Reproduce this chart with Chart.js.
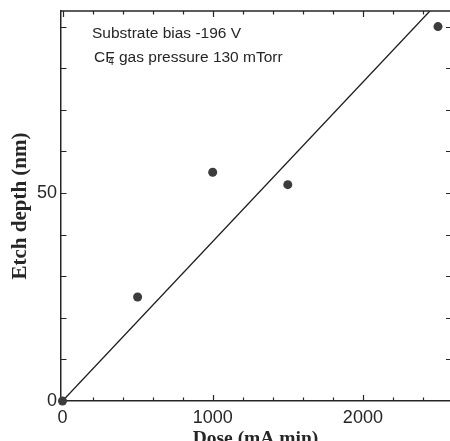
<!DOCTYPE html>
<html>
<head>
<meta charset="utf-8">
<script src="https://cdn.jsdelivr.net/npm/chart.js@4.4.1/dist/chart.umd.min.js"></script>
<style>
  html, body { margin: 0; padding: 0; background: #fff; }
  #wrap { width: 450px; height: 441px; }
</style>
</head>
<body>
<div id="wrap"><canvas id="etchChart" width="450" height="441"></canvas></div>
<script>
// measured etch depth vs. ion dose
const doses = [0, 500, 1000, 1500, 2500];
const depths = [0, 25, 55, 52, 90];

// least-squares line through the origin, drawn between these two ends
const fitDose = [0, 2446];
const fitDepth = [0, 93.75];

// axis ticks
const xLabelTicks = [0, 1000, 2000];
const xMinorTicks = [200, 400, 600, 800, 1200, 1400, 1600, 1800, 2200, 2400];
const yLabelTicks = [0, 50];
const yMinorTicks = [10, 20, 30, 40, 60, 70, 80, 90];

const notes = ['Substrate bias -196 V', 'gas pressure 130 mTorr'];

const ink = '#262626';
const sans = "'Liberation Sans', Arial, Helvetica, sans-serif";
const serif = "'Liberation Serif', 'Times New Roman', serif";

// drop the label overhang padding so the plot box sits where the layout puts it
function noOverhang(s) {
    s.paddingTop = 0;
    s.paddingBottom = 0;
    s.paddingLeft = 0;
    s.paddingRight = 0;
}

// box frame: top line plus inward ticks on all four sides
const frameTicks = {
    id: 'frameTicks',
    afterDraw(chart) {
        const {ctx, chartArea: a, scales: {x, y}} = chart;
        ctx.save();
        ctx.strokeStyle = ink;
        ctx.lineWidth = 1.5;
        ctx.beginPath();
        ctx.moveTo(a.left, a.top);
        ctx.lineTo(a.right, a.top);
        ctx.stroke();

        ctx.lineWidth = 1.2;
        ctx.beginPath();
        const xt = xLabelTicks.map(v => [v, 6]).concat(xMinorTicks.map(v => [v, 3.5]));
        xt.forEach(([v, len]) => {
            const px = Math.round(x.getPixelForValue(v)) + 0.5;
            if (v > 0) {
                ctx.moveTo(px, a.bottom);
                ctx.lineTo(px, a.bottom - len);
            }
            ctx.moveTo(px, a.top);
            ctx.lineTo(px, a.top + len);
        });
        const yt = yLabelTicks.concat(yMinorTicks);
        yt.forEach(v => {
            if (v === 0) return;
            const py = Math.round(y.getPixelForValue(v)) + 0.5;
            ctx.moveTo(a.left, py);
            ctx.lineTo(a.left + 5.5, py);
            ctx.moveTo(a.right, py);
            ctx.lineTo(a.right - 4, py);
        });
        ctx.stroke();

        // run conditions
        ctx.fillStyle = ink;
        ctx.textBaseline = 'alphabetic';
        ctx.font = '15.5px ' + sans;
        ctx.fillText(notes[0], 92, 38);
        let cx = 94;
        const base = 61.5;
        ctx.fillText('C', cx, base);
        cx += ctx.measureText('C').width;
        ctx.fillText('F', cx, base);
        const fw = ctx.measureText('F').width;
        ctx.font = '10px ' + sans;
        ctx.fillText('4', cx + 3, base + 3);
        cx += fw;
        ctx.font = '15.5px ' + sans;
        ctx.fillText(' ' + notes[1], cx, base);
        ctx.restore();
    }
};

new Chart(document.getElementById('etchChart'), {
    type: 'scatter',
    data: {
        datasets: [{
            label: 'Etch depth',
            data: doses.map((d, i) => ({x: d, y: depths[i]})),
            pointRadius: 4.5,
            pointBackgroundColor: '#3c3c3c',
            pointBorderWidth: 0,
            clip: false
        }, {
            label: 'Fit',
            type: 'line',
            data: fitDose.map((d, i) => ({x: d, y: fitDepth[i]})),
            showLine: true,
            pointRadius: 0,
            borderColor: '#1e1e1e',
            borderWidth: 1.3,
            fill: false
        }]
    },
    options: {
        responsive: false,
        animation: false,
        layout: { autoPadding: false, padding: { top: 11, right: 0, left: 0, bottom: 0 } },
        plugins: {
            legend: { display: false },
            tooltip: { enabled: false }
        },
        scales: {
            x: {
                type: 'linear',
                min: -10,
                max: 2580,
                grid: { display: false, drawTicks: false },
                border: { display: true, color: ink, width: 1.5 },
                afterBuildTicks: s => { s.ticks = xLabelTicks.map(v => ({value: v})); },
                afterFit: s => { s.height = 40; noOverhang(s); },
                ticks: {
                    color: ink,
                    padding: 6,
                    maxRotation: 0,
                    callback: v => String(v),
                    font: { family: sans, size: 18 }
                },
                title: {
                    display: true,
                    text: 'Dose (mA.min)',
                    color: ink,
                    padding: { top: 0, bottom: -10 },
                    font: { family: serif, size: 19.5, weight: 'bold' }
                }
            },
            y: {
                min: 0,
                max: 93.75,
                grid: { display: false, drawTicks: false },
                border: { display: true, color: ink, width: 1.5 },
                afterBuildTicks: s => { s.ticks = yLabelTicks.map(v => ({value: v})); },
                afterFit: s => { s.width = 61; noOverhang(s); },
                ticks: {
                    color: ink,
                    padding: 4,
                    callback: v => String(v),
                    font: { family: sans, size: 18 }
                },
                title: {
                    display: true,
                    text: 'Etch depth (nm)',
                    color: ink,
                    padding: { top: 7.5, bottom: 0 },
                    font: { family: serif, size: 21, weight: 'bold' }
                }
            }
        }
    },
    plugins: [frameTicks]
});
</script>
</body>
</html>
